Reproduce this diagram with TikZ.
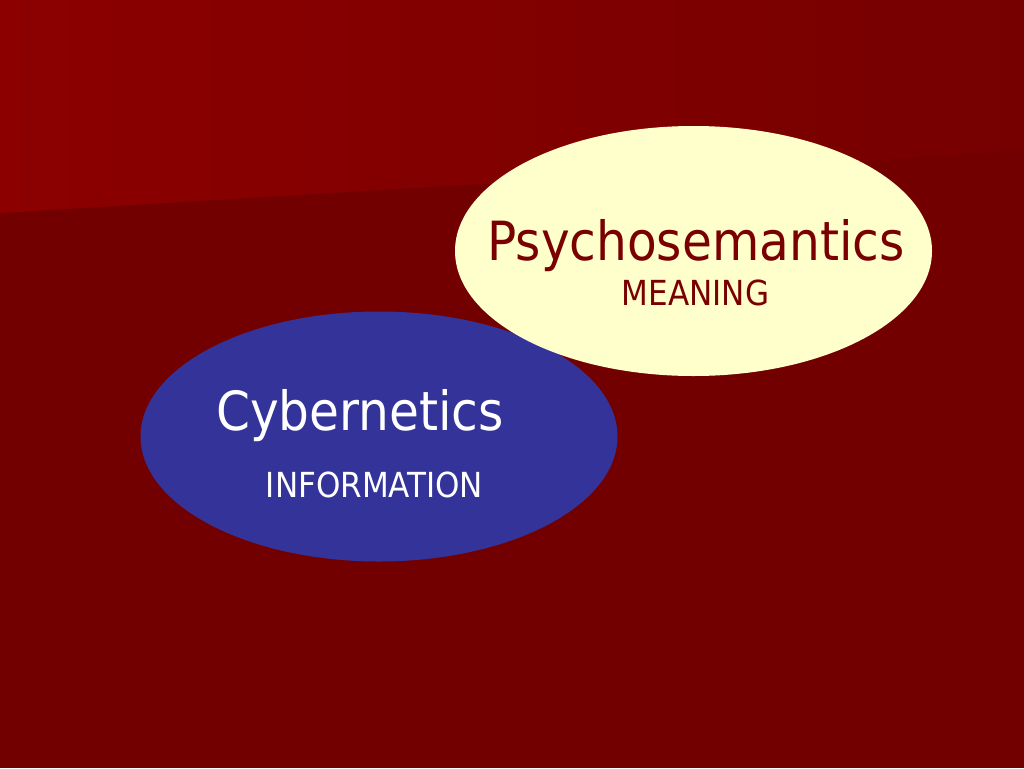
\documentclass[tikz,border=0pt]{standalone}
\usepackage{fontspec}
\setmainfont{DejaVu Sans Condensed}
\usetikzlibrary{shapes.geometric}
\definecolor{bgdark}{RGB}{115,0,0}
\definecolor{bgleft}{RGB}{140,0,0}
\definecolor{bgright}{RGB}{118,0,0}
\definecolor{cream}{RGB}{255,255,204}
\definecolor{slateblue}{RGB}{51,51,153}
\definecolor{textred}{RGB}{122,0,0}
\tikzset{
  blob/.style={ellipse, inner sep=0pt, minimum width=477pt, minimum height=250pt},
  bigtext/.style={anchor=base, inner sep=0pt, font=\fontsize{54}{60}\selectfont},
  smalltext/.style={anchor=base, inner sep=0pt, font=\fontsize{34.5}{40}\selectfont}
}
\begin{document}
\begin{tikzpicture}[x=1pt,y=-1pt]
\useasboundingbox (0,0) rectangle (1024,768);
\fill[bgdark] (0,0) rectangle (1024,768);
\shade[left color=bgleft, right color=bgright] (0,0) -- (1024,0) -- (1024,151) -- (0,213) -- cycle;
\node[blob, fill=slateblue] (cyb) at (379,436.5) {};
\node[blob, fill=cream] (psy) at (693.5,251) {};
\node[bigtext, text=textred] (psyt) at (696,260) {Psychosemantics};
\node[smalltext, text=textred] (psym) at (695.5,305) {MEANING};
\node[bigtext, text=white] (cybt) at (360,430) {Cybernetics};
\node[smalltext, text=white] (cybi) at (374.5,497) {INFORMATION};
\end{tikzpicture}
\end{document}
